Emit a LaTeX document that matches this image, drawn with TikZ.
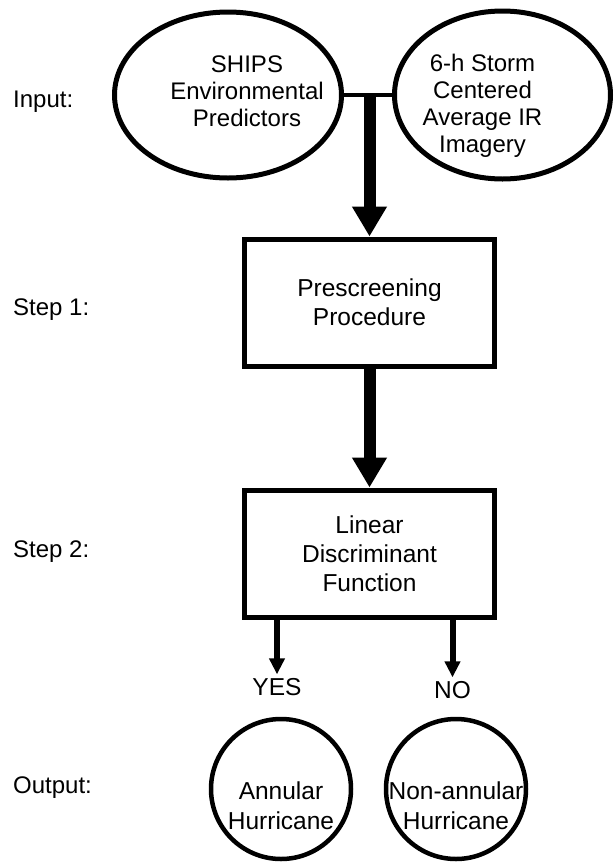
\documentclass[tikz,border=0pt]{standalone}
\usepackage{fontspec}
\setmainfont{Liberation Sans}
\usetikzlibrary{arrows.meta,positioning,shapes.geometric}

\begin{document}
\begin{tikzpicture}[
        x=1pt, y=-1pt,
        every node/.style={font=\fontsize{24.5}{29}\selectfont},
        oval/.style={ellipse,draw,line width=5pt,inner sep=0pt},
        ovaltext/.style={align=center,font=\fontsize{24}{27}\selectfont},
        box/.style={rectangle,draw,line width=5pt,minimum width=250pt,minimum height=127pt,align=center},
        result/.style={circle,draw,line width=4.5pt,minimum size=140pt,inner sep=0pt},
        resulttext/.style={align=center,font=\fontsize{24.5}{30}\selectfont,yshift=-17pt},
        steplabel/.style={anchor=base west,inner sep=0pt,font=\fontsize{24}{29}\selectfont},
        bigarrow/.style={-{Triangle[width=33pt,length=30pt]},line width=12pt},
        smallarrow/.style={-{Triangle[width=15pt,length=16pt]},line width=6pt}
    ]
        \useasboundingbox (0,0) rectangle (615,863);

        % row labels
        \node[steplabel] (inputlbl) at (13,107) {Input:};
        \node[steplabel] (step1lbl) at (13,315) {Step 1:};
        \node[steplabel] (step2lbl) at (13,557) {Step 2:};
        \node[steplabel] (outputlbl) at (13,793) {Output:};

        % inputs
        \node[oval, minimum width=227pt, minimum height=166pt,
              label={[ovaltext, xshift=19pt, yshift=4pt]center:SHIPS\\Environmental\\Predictors}] (ships) at (228,95) {};
        \node[oval, minimum width=216pt, minimum height=168pt,
              label={[ovaltext, xshift=-20pt, yshift=-11pt]center:6-h Storm\\Centered\\Average IR\\Imagery}] (storm) at (502.5,95) {};
        \coordinate (merge) at (369.5,95);

        % steps
        \node[box] (prescreen) at (369.5,302.5) {Prescreening\\Procedure};
        \node[box] (discrim) at (369.5,553.5) {Linear\\Discriminant\\Function};

        % decision
        \node[anchor=base] (yes) at (277,695) {YES};
        \node[anchor=base] (no) at (452.5,698) {NO};

        % outputs
        \node[result, label={[resulttext]center:Annular\\Hurricane}] (annular) at (281,789) {};
        \node[result, label={[resulttext]center:Non-annular\\Hurricane}] (nonannular) at (456,789) {};

        \draw[line width=4pt] (ships.east) -- (storm.west);
        \draw[bigarrow] (merge) -- (merge |- prescreen.north);
        \draw[bigarrow] (prescreen.south) -- (discrim.north);
        \draw[smallarrow] (yes |- discrim.south) -- (yes.north);
        \draw[smallarrow] (no |- discrim.south) -- (no.north);
    \end{tikzpicture}
\end{document}
